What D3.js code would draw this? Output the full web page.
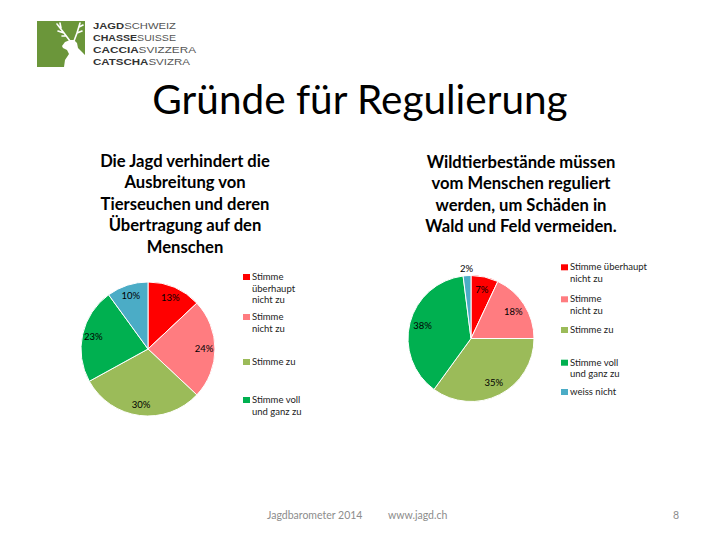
<!DOCTYPE html>
<html><head><meta charset="utf-8">
<script src="https://cdn.jsdelivr.net/npm/d3@7"></script>
<style>body{margin:0;background:#fff}svg{display:block}</style>
</head><body>
<svg id="c" width="720" height="540"></svg>
<script>
const categories = ["Stimme überhaupt nicht zu","Stimme nicht zu","Stimme zu","Stimme voll und ganz zu","weiss nicht"];
const colors = ["#ff0000","#ff7c80","#9bbb59","#00b050","#4bacc6"];
const leftValues = [13,24,30,23,10];
const rightValues = [7,18,35,38,2];
const leftLegendLines = [["Stimme","überhaupt","nicht zu"],["Stimme","nicht zu"],["Stimme zu"],["Stimme voll","und ganz zu"]];
const rightLegendLines = [["Stimme überhaupt","nicht zu"],["Stimme","nicht zu"],["Stimme zu"],["Stimme voll","und ganz zu"],["weiss nicht"]];
const title = "Gründe für Regulierung";
const leftSubtitle = ["Die Jagd verhindert die","Ausbreitung von","Tierseuchen und deren","Übertragung auf den","Menschen"];
const rightSubtitle = ["Wildtierbestände müssen","vom Menschen reguliert","werden, um Schäden in","Wald und Feld vermeiden."];
const logoLines = [["JAGD","SCHWEIZ"],["CHASSE","SUISSE"],["CACCIA","SVIZZERA"],["CATSCHA","SVIZRA"]];
const footer = ["Jagdbarometer 2014","www.jagd.ch","8"];

const svg = d3.select("#c");
const F = "Lato, 'Open Sans', sans-serif";

// Logo
const logo = svg.append("g");
logo.append("rect").attr("x",37).attr("y",21).attr("width",48).attr("height",46).attr("fill","#6b963a");
logo.append("path").attr("fill","#fff")
  .attr("d","M62,46 L65,42 L70,40 L74,40 L77,43 L78,48 L82,52 L85,55 L85,67 L64,67 L65,60 L69,54 L67,50 L63,48 Z");
logo.append("path").attr("fill","none").attr("stroke","#fff").attr("stroke-width",1.6).attr("stroke-linecap","round")
  .attr("d","M70,41 L64,33 L57,24 M64,33 L58,31 M61,28 L60,23 M66,36 L62,36 M74,41 L77,33 L80,23 M77,33 L82,31 M79,27 L83,25");
const lt = logo.append("g").attr("font-family","'Liberation Sans', Arial, sans-serif").attr("font-size",9.5);
const logoWidths = [83,83,103,97];
logoLines.forEach((l,i)=>{
  const t = lt.append("text").attr("x",93).attr("y",28.7+i*12.1)
    .attr("textLength",logoWidths[i]).attr("lengthAdjust","spacingAndGlyphs");
  t.append("tspan").attr("font-weight","900").attr("fill","#333").text(l[0]);
  t.append("tspan").attr("fill","#555").attr("font-weight","300").text(l[1]);
});

// Title
svg.append("text").attr("x",360).attr("y",114).attr("text-anchor","middle")
  .attr("font-family",F).attr("font-size",40.5).attr("fill","#000").text(title);

// Subtitles
function subtitle(lines,cx,y0){
  svg.append("g").attr("font-family",F).attr("font-weight","bold").attr("font-size",16.6).attr("text-anchor","middle")
   .selectAll("text").data(lines).join("text")
   .attr("x",cx).attr("y",(d,i)=>y0+i*21.4).attr("fill","#000").text(d=>d);
}
subtitle(leftSubtitle,185,167);
subtitle(rightSubtitle,521,168);

// Pies
const pie = d3.pie().sort(null).value(d=>d);
function drawPie(values,cx,cy,r,labelR,outR){
  const g = svg.append("g").attr("transform",`translate(${cx},${cy})`);
  const arc = d3.arc().innerRadius(0).outerRadius(r);
  const arcs = pie(values);
  g.selectAll("path").data(arcs).join("path").attr("d",arc)
    .attr("fill",(d,i)=>colors[i]).attr("stroke","#fff").attr("stroke-width",1);
  const la = d3.arc().innerRadius(labelR).outerRadius(labelR);
  const lo = d3.arc().innerRadius(outR).outerRadius(outR);
  g.selectAll("text").data(arcs).join("text")
    .attr("transform",d=>`translate(${(d.data<5?lo:la).centroid(d)})`)
    .attr("text-anchor","middle").attr("dy","0.35em")
    .attr("font-family",F).attr("font-size",9.5).attr("fill","#000")
    .text(d=>d.data+"%");
}
drawPie(leftValues,148,349,67,56,74);
drawPie(rightValues,471,338.5,63,50,70);

// Legends
function legend(lines,x,ys){
  const g = svg.append("g").attr("font-family",F).attr("font-size",9.5).attr("fill","#222");
  lines.forEach((ls,i)=>{
    g.append("rect").attr("x",x).attr("y",ys[i]-6).attr("width",7).attr("height",6).attr("fill",colors[i]);
    ls.forEach((s,j)=>{
      g.append("text").attr("x",x+9).attr("y",ys[i]+j*11.6).text(s);
    });
  });
}
legend(leftLegendLines,243,[280,320,365,403]);
legend(rightLegendLines,561,[270.3,302.3,333,365.7,395]);

// Footer
const fg = svg.append("g").attr("font-family",F).attr("font-size",10.5).attr("fill","#8c8c8c");
fg.append("text").attr("x",267).attr("y",519).text(footer[0]);
fg.append("text").attr("x",388).attr("y",519).text(footer[1]);
fg.append("text").attr("x",676).attr("y",519).attr("text-anchor","middle").text(footer[2]);
</script>
</body></html>
